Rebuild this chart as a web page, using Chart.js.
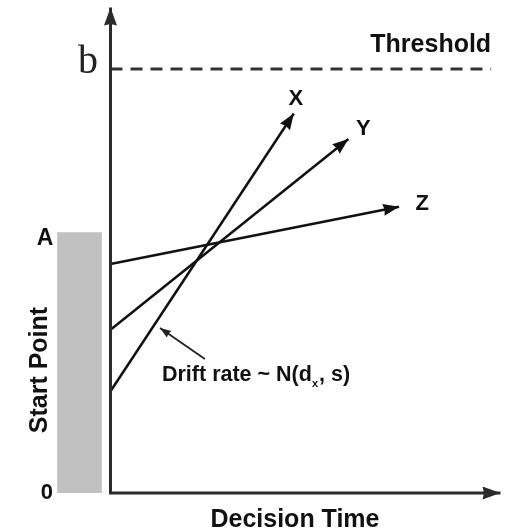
<!DOCTYPE html>
<html>
<head>
<meta charset="utf-8">
<script src="https://cdn.jsdelivr.net/npm/chart.js@4.4.1/dist/chart.umd.min.js"></script>
<style>
  html, body { margin: 0; padding: 0; background: #fff; }
  #wrap { width: 511px; height: 532px; }
</style>
</head>
<body>
<div id="wrap"><canvas id="c"></canvas></div>
<script>
// accumulators: start point (evidence) and where the drawn arrow ends (time, evidence)
const accumulators = ['X', 'Y', 'Z'];
const startPoints = [2.4, 3.85, 5.4];
const endTimes = [4.7, 6.1, 7.4];
const endLevels = [8.95, 8.35, 6.75];

const threshold = 10;     // b
const startMax = 6.15;    // A
const timeMax = 10;
const evidenceMax = 11.45;

const SANS = '"Liberation Sans", Arial, sans-serif';

// draws filled triangles at the ends of datasets flagged with `arrow`
const arrowHeads = {
  id: 'arrowHeads',
  afterDatasetsDraw(chart) {
    const ctx = chart.ctx;
    chart.data.datasets.forEach((ds, i) => {
      if (!ds.arrow) return;
      const pts = chart.getDatasetMeta(i).data;
      const heads = [[pts[pts.length - 2], pts[pts.length - 1]]];
      if (ds.arrow.both) heads.push([pts[1], pts[0]]);
      heads.forEach(([a, b]) => {
        const ang = Math.atan2(b.y - a.y, b.x - a.x);
        ctx.save();
        ctx.translate(b.x, b.y);
        ctx.rotate(ang);
        ctx.fillStyle = ds.borderColor;
        ctx.beginPath();
        ctx.moveTo(0, 0);
        ctx.lineTo(-ds.arrow.len, -ds.arrow.w / 2);
        ctx.lineTo(-ds.arrow.len * 0.92, 0);
        ctx.lineTo(-ds.arrow.len, ds.arrow.w / 2);
        ctx.closePath();
        ctx.fill();
        ctx.restore();
      });
    });
  }
};

// all the text of the diagram, placed in data space
const labels = {
  id: 'labels',
  afterDatasetsDraw(chart) {
    const ctx = chart.ctx;
    const sx = chart.scales.x, sy = chart.scales.y;
    const px = v => sx.getPixelForValue(v);
    const py = v => sy.getPixelForValue(v);
    function put(s, x, y, font, align, base, color) {
      ctx.font = font;
      ctx.textAlign = align || 'center';
      ctx.textBaseline = base || 'middle';
      ctx.fillStyle = color || '#111';
      ctx.fillText(s, x, y);
    }
    ctx.save();
    put('Threshold', px(9.76), py(threshold + 0.57), 'bold 25px ' + SANS, 'right');
    put('b', px(-0.58), py(threshold - 0.1), '40px "Liberation Serif", "Times New Roman", serif', 'center', 'alphabetic', '#222');
    put('A', px(-1.68), py(startMax - 0.15), 'bold 23px ' + SANS);
    put('0', px(-1.63), py(0), 'bold 22px ' + SANS);

    const offs = [[2, -15], [15, -10], [23, -3]];
    accumulators.forEach((name, i) => {
      put(name, px(endTimes[i]) + offs[i][0], py(endLevels[i]) + offs[i][1], 'bold 22px ' + SANS);
    });

    put('Decision Time', px(4.73), py(-0.64), 'bold 25px ' + SANS);

    ctx.save();
    ctx.translate(px(-1.81), py(2.9));
    ctx.rotate(-Math.PI / 2);
    put('Start Point', 0, 0, 'bold 25px ' + SANS);
    ctx.restore();

    // Drift rate ~ N(d_x, s)
    let x = px(1.32);
    const base = py(2.64);
    const f = 'bold 21.5px ' + SANS;
    put('Drift rate ~ N(d', x, base, f, 'left', 'alphabetic');
    ctx.font = f;
    x += ctx.measureText('Drift rate ~ N(d').width;
    put('x', x, base + 6, 'bold 11px ' + SANS, 'left', 'alphabetic');
    ctx.font = 'bold 11px ' + SANS;
    x += ctx.measureText('x').width + 1;
    put(', s)', x, base, f, 'left', 'alphabetic');
    ctx.restore();
  }
};

const lineStyle = { pointRadius: 0, pointHoverRadius: 0, fill: false, clip: false, tension: 0 };

const datasets = [
  {
    // start point range 0..A
    data: [{ x: -1.37, y: startMax }, { x: -0.22, y: startMax }],
    backgroundColor: '#c1c1c1', borderWidth: 0, fill: 'origin',
    pointRadius: 0, clip: false
  },
  {
    // axes
    data: [{ x: 0, y: evidenceMax }, { x: 0, y: 0 }, { x: timeMax, y: 0 }],
    borderColor: '#2b2b2b', borderWidth: 3, borderJoinStyle: 'miter',
    arrow: { len: 18, w: 13, both: true }, ...lineStyle
  },
  {
    // threshold b
    data: [{ x: 0, y: threshold }, { x: 9.76, y: threshold }],
    borderColor: '#333', borderWidth: 3, borderDash: [12, 8], ...lineStyle
  }
];

accumulators.forEach((name, i) => {
  datasets.push({
    label: name,
    data: [{ x: 0, y: startPoints[i] }, { x: endTimes[i], y: endLevels[i] }],
    borderColor: '#111', borderWidth: 2.5,
    arrow: { len: 16, w: 12 }, ...lineStyle
  });
});

// pointer to the X accumulator
datasets.push({
  data: [{ x: 2.42, y: 3.16 }, { x: 1.27, y: 3.89 }],
  borderColor: '#222', borderWidth: 1.8,
  arrow: { len: 11, w: 8 }, ...lineStyle
});

new Chart(document.getElementById('c'), {
  type: 'line',
  data: { datasets },
  options: {
    responsive: true,
    maintainAspectRatio: false,
    animation: false,
    events: [],
    layout: { padding: { left: 52, right: 10.5, top: 5.4, bottom: 39 } },
    scales: {
      x: { type: 'linear', min: -1.5, max: timeMax, display: false },
      y: { type: 'linear', min: 0, max: 11.5, display: false }
    },
    plugins: { legend: { display: false }, tooltip: { enabled: false } }
  },
  plugins: [arrowHeads, labels]
});
</script>
</body>
</html>
